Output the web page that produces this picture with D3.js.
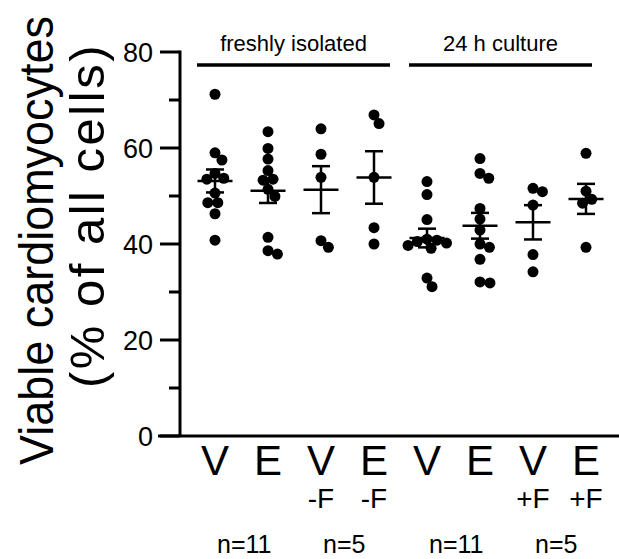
<!DOCTYPE html>
<html>
<head>
<meta charset="utf-8">
<script src="https://cdn.jsdelivr.net/npm/d3@7"></script>
<style>
  body { margin: 0; background: #fff; }
  svg { display: block; font-family: "Liberation Sans", Arial, sans-serif; }
</style>
</head>
<body>
<div id="chart"></div>
<script>
// categories: main label and the small line under it
var catMain = ["V", "E", "V", "E", "V", "E", "V", "E"];
var catSub = ["", "", "-F", "-F", "", "", "+F", "+F"];
// viable cardiomyocytes, % of all cells, one array per group
var grpVFresh = [71.2, 59.0, 57.5, 54.7, 53.7, 53.5, 50.6, 48.6, 48.6, 46.3, 40.8];
var grpEFresh = [63.4, 59.9, 57.7, 55.3, 53.5, 53.3, 51.4, 49.9, 41.4, 38.6, 37.9];
var grpVFreshF = [64.0, 58.7, 53.9, 40.7, 39.3];
var grpEFreshF = [66.9, 65.1, 53.9, 43.4, 40.0];
var grpVCult = [53.0, 50.3, 45.1, 41.0, 40.8, 40.5, 40.2, 39.7, 39.1, 32.9, 31.1];
var grpECult = [57.8, 54.7, 53.7, 47.4, 45.2, 42.9, 40.0, 39.3, 36.8, 32.1, 31.9];
var grpVCultF = [51.6, 50.9, 48.1, 37.8, 34.2];
var grpECultF = [58.9, 51.0, 49.3, 48.5, 39.3];
var groups = [grpVFresh, grpEFresh, grpVFreshF, grpEFreshF, grpVCult, grpECult, grpVCultF, grpECultF];
var yTicks = [0, 20, 40, 60, 80];
var yMinor = [10, 30, 50, 70];
var yTitle = ["Viable cardiomyocytes", "(% of all cells)"];
var headers = ["freshly isolated", "24 h culture"];
var headerSpan = [[0, 3], [4, 7]];
var nLabels = ["n=11", "n=5", "n=11", "n=5"];

var width = 619, height = 559;
var dotR = 5.5;

var svg = d3.select("#chart").append("svg")
    .attr("width", width)
    .attr("height", height);

var x = d3.scaleBand()
    .domain(d3.range(groups.length))
    .range([188.5, 612.5]);
var y = d3.scaleLinear()
    .domain([0, 80])
    .range([436, 52]);

function cx(i) { return x(i) + x.bandwidth() / 2; }

// simple beeswarm so dots do not sit on top of each other
function swarm(vals, d) {
    var pts = vals.map(function(v) { return {v: v, y: y(v)}; })
        .sort(function(a, b) { return a.y - b.y; });
    var placed = [];
    pts.forEach(function(p) {
        var cands = [0];
        placed.forEach(function(q) {
            var dy = Math.abs(q.y - p.y);
            if (dy < d) {
                var dx = Math.sqrt(d * d - dy * dy);
                cands.push(q.dx + dx, q.dx - dx);
            }
        });
        cands.sort(function(a, b) { return Math.abs(a) - Math.abs(b); });
        p.dx = cands.find(function(c) {
            return placed.every(function(q) {
                return (q.dx - c) * (q.dx - c) + (q.y - p.y) * (q.y - p.y) >= d * d - 1e-6;
            });
        });
        placed.push(p);
    });
    return placed;
}

// y axis
svg.append("line")
    .attr("x1", 180).attr("x2", 180)
    .attr("y1", y(80) - 1.5).attr("y2", y(0))
    .attr("stroke", "#000").attr("stroke-width", 3);
svg.selectAll(".tick").data(yTicks).enter().append("line")
    .attr("x1", 160).attr("x2", 180)
    .attr("y1", function(d) { return y(d); })
    .attr("y2", function(d) { return y(d); })
    .attr("stroke", "#000").attr("stroke-width", 3);
svg.selectAll(".minor").data(yMinor).enter().append("line")
    .attr("x1", 169).attr("x2", 180)
    .attr("y1", function(d) { return y(d); })
    .attr("y2", function(d) { return y(d); })
    .attr("stroke", "#000").attr("stroke-width", 3);
svg.selectAll(".tlabel").data(yTicks).enter().append("text")
    .attr("x", 153)
    .attr("y", function(d) { return y(d); })
    .attr("dy", "0.36em")
    .attr("text-anchor", "end")
    .attr("font-size", 27)
    .text(function(d) { return d; });

// x axis
svg.append("line")
    .attr("x1", 158).attr("x2", width)
    .attr("y1", y(0)).attr("y2", y(0))
    .attr("stroke", "#000").attr("stroke-width", 3);

// y title, two lines; first one a bit condensed like the original font
var squeeze = 0.918;
svg.append("text")
    .attr("transform", "rotate(-90) scale(" + squeeze + ",1)")
    .attr("x", -465 / squeeze)
    .attr("y", 53)
    .attr("font-size", 49)
    .text(yTitle[0]);
svg.append("text")
    .attr("transform", "rotate(-90)")
    .attr("x", -388)
    .attr("y", 104)
    .attr("font-size", 49)
    .attr("letter-spacing", 2.5)
    .text(yTitle[1]);

// group labels on top
headers.forEach(function(h, k) {
    var a = headerSpan[k][0], b = headerSpan[k][1];
    var x1 = cx(a) - 18, x2 = cx(b) + (k === 0 ? 16 : 6);
    svg.append("line")
        .attr("x1", x1).attr("x2", x2)
        .attr("y1", 65).attr("y2", 65)
        .attr("stroke", "#000").attr("stroke-width", 3.5);
    svg.append("text")
        .attr("x", (x1 + x2) / 2)
        .attr("y", 51)
        .attr("text-anchor", "middle")
        .attr("font-size", 22)
        .text(h);
});

// category labels
svg.selectAll(".cat").data(catMain).enter().append("text")
    .attr("x", function(d, i) { return cx(i); })
    .attr("y", 475)
    .attr("text-anchor", "middle")
    .attr("font-size", 42)
    .text(function(d) { return d; });
svg.selectAll(".sub").data(catSub).enter().append("text")
    .attr("x", function(d, i) { return cx(i); })
    .attr("y", 508)
    .attr("text-anchor", "middle")
    .attr("font-size", 28)
    .text(function(d) { return d; });
svg.selectAll(".nlab").data(nLabels).enter().append("text")
    .attr("x", function(d, k) { return cx(k * 2) + 2; })
    .attr("y", 553)
    .attr("font-size", 25)
    .text(function(d) { return d; });

// dots
groups.forEach(function(vals, i) {
    var pts = swarm(vals, 10);
    svg.append("g").selectAll("circle").data(pts).enter().append("circle")
        .attr("cx", function(p) { return cx(i) + p.dx; })
        .attr("cy", function(p) { return p.y; })
        .attr("r", dotR)
        .attr("fill", "#000");

    // mean and SEM
    var m = d3.mean(vals);
    var sem = d3.deviation(vals) / Math.sqrt(vals.length);
    var g = svg.append("g").attr("stroke", "#000").attr("stroke-width", 2.5);
    g.append("line")
        .attr("x1", cx(i) - 17.5).attr("x2", cx(i) + 17.5)
        .attr("y1", y(m)).attr("y2", y(m));
    g.append("line")
        .attr("x1", cx(i)).attr("x2", cx(i))
        .attr("y1", y(m + sem)).attr("y2", y(m - sem));
    [m + sem, m - sem].forEach(function(v) {
        g.append("line")
            .attr("x1", cx(i) - 9).attr("x2", cx(i) + 9)
            .attr("y1", y(v)).attr("y2", y(v));
    });
});
</script>
</body>
</html>
